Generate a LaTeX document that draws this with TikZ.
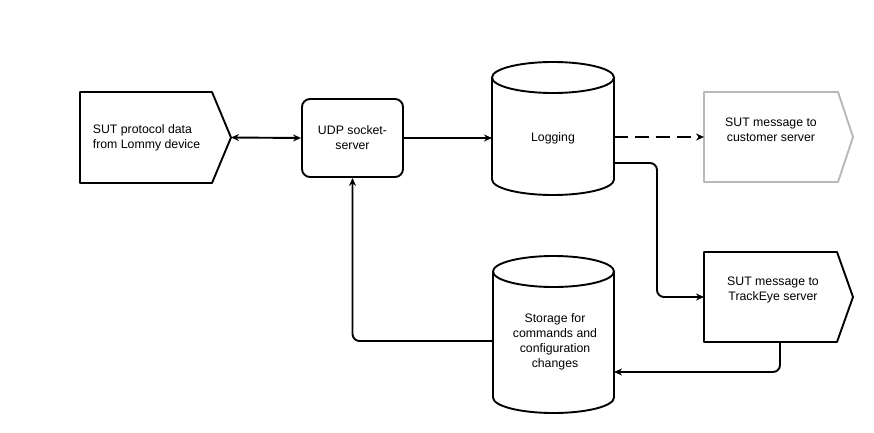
\documentclass[tikz,border=0pt]{standalone}
\usepackage{fontspec}
\setmainfont{Liberation Sans}
\usetikzlibrary{arrows.meta,calc}
\begin{document}
\begin{tikzpicture}[x=1pt,y=1pt,
  box/.style={draw=none,inner sep=0pt,outer sep=0pt},
  lbl/.style={inner sep=0pt,align=center,font=\fontsize{12.3}{15}\selectfont},
  ln/.style={line width=1.9pt,line join=round},
  arr/.style={ln,-{Stealth[length=8pt,width=7pt]}},
  darr/.style={ln,{Stealth[length=8pt,width=7pt]}-{Stealth[length=8pt,width=7pt]}},
  cgray/.style={draw=black!28,line width=1.9pt,line join=round}]
\useasboundingbox (0,0) rectangle (874,432);
% nodes (shape extents)
\node[box,minimum width=151pt,minimum height=91pt] (sut) at (155.5,294.5) {};
\node[draw,ln,rounded corners=8pt,minimum width=101pt,minimum height=78pt,inner sep=0pt] (udp) at (352.5,294) {};
\node[box,minimum width=122pt,minimum height=133pt] (logc) at (553,303.5) {};
\node[box,minimum width=149pt,minimum height=90pt] (cust) at (778.5,295) {};
\node[box,minimum width=149pt,minimum height=90pt] (track) at (778.5,135) {};
\node[box,minimum width=121pt,minimum height=157pt] (stc) at (553.5,97.5) {};
% pentagon shapes
\draw[ln] (sut.north west) -- ([xshift=-19pt]sut.north east) -- (sut.east) -- ([xshift=-19pt]sut.south east) -- (sut.south west) -- cycle;
\draw[cgray] (cust.north west) -- ([xshift=-15pt]cust.north east) -- (cust.east) -- ([xshift=-15pt]cust.south east) -- (cust.south west) -- cycle;
\draw[ln] (track.north west) -- ([xshift=-16pt]track.north east) -- (track.east) -- ([xshift=-16pt]track.south east) -- (track.south west) -- cycle;
% cylinders
\draw[ln] ([yshift=-15.5pt]logc.north west) -- ([yshift=15.5pt]logc.south west)
  arc[x radius=61pt,y radius=15.5pt,start angle=180,end angle=360] -- ([yshift=-15.5pt]logc.north east);
\draw[ln] ([yshift=-15.5pt]logc.north) ellipse[x radius=61pt,y radius=15.5pt];
\draw[ln] ([yshift=-15.5pt]stc.north west) -- ([yshift=15.5pt]stc.south west)
  arc[x radius=60.5pt,y radius=15.5pt,start angle=180,end angle=360] -- ([yshift=-15.5pt]stc.north east);
\draw[ln] ([yshift=-15.5pt]stc.north) ellipse[x radius=60.5pt,y radius=15.5pt];
% labels
\node[lbl,align=left] (sutt) at ([xshift=-9pt]sut.center) {SUT protocol data\\from Lommy device};
\node[lbl] (udpt) at (udp.center) {UDP socket-\\server};
\node[lbl] (logt) at (553,294) {Logging};
\node[lbl] (custt) at ([shift={(-7.5pt,7.5pt)}]cust.center) {SUT message to\\customer server};
\node[lbl] (trackt) at ([shift={(-5.5pt,7pt)}]track.center) {SUT message to\\TrackEye server};
\node[lbl] (stct) at ([shift={(1.5pt,-7.5pt)}]stc.center) {Storage for\\commands and\\configuration\\changes};
% connectors
\draw[darr] (sut.east) -- (udp.west);
\draw[arr] (udp.east) -- (udp.east -| logc.west);
\draw[arr,dash pattern=on 14pt off 7pt] (logc.east |- cust.west) -- (cust.west);
\draw[arr,rounded corners=7pt] ([yshift=-34.5pt]logc.east) -- ++(43pt,0) |- (track.west);
\draw[arr,rounded corners=7pt] ([xshift=1.5pt]track.south) |- ([yshift=-37.5pt]stc.east);
\draw[arr,rounded corners=7pt] ([yshift=-6.5pt]stc.west) -| (udp.south);
\end{tikzpicture}
\end{document}
